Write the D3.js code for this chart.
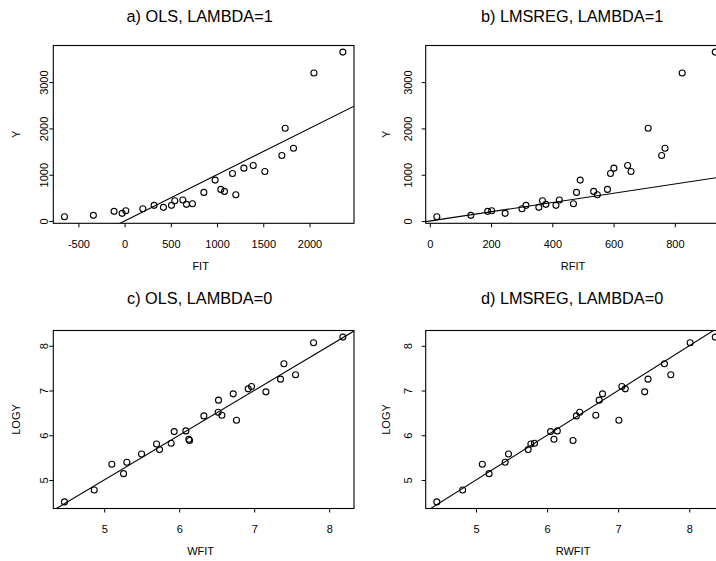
<!DOCTYPE html>
<html>
<head>
<meta charset="utf-8">
<script src="https://cdn.jsdelivr.net/npm/d3@7"></script>
<style>
  body { margin: 0; background: #fff; }
  text { font-family: "Liberation Sans", Arial, Helvetica, sans-serif; fill: #000; }
</style>
</head>
<body>
<svg width="716" height="561"></svg>
<script>
// observations, same order in every list
const Y     = [93, 123, 209, 166, 222, 265, 338, 295, 338, 438, 453, 360, 373, 618, 884,
               683, 640, 1028, 567, 1142, 1200, 1071, 1416, 2004, 1573, 3196, 3649];
const FIT   = [-651, -338, -114, -27, 13, 197, 319, 420, 507, 543, 630, 669, 734, 857, 979,
               1041, 1080, 1167, 1203, 1290, 1391, 1517, 1701, 1737, 1827, 2048, 2361];
const RFIT  = [23, 134, 189, 246, 202, 301, 314, 356, 412, 368, 423, 379, 469, 479, 491,
               580, 535, 590, 547, 601, 646, 657, 757, 713, 768, 824, 932];
const LOGY  = [4.51, 4.776, 5.351, 5.142, 5.396, 5.582, 5.806, 5.679, 5.821, 6.082, 6.097, 5.881, 5.91, 6.433, 6.784,
               6.515, 6.448, 6.925, 6.336, 7.037, 7.09, 6.97, 7.254, 7.597, 7.351, 8.067, 8.194];
const WFIT  = [4.47, 4.867, 5.102, 5.258, 5.302, 5.498, 5.698, 5.738, 5.893, 5.933, 6.089, 6.138, 6.129, 6.329, 6.524,
               6.52, 6.569, 6.72, 6.764, 6.92, 6.964, 7.156, 7.351, 7.396, 7.551, 7.791, 8.182];
const RWFIT = [4.449, 4.812, 5.089, 5.184, 5.41, 5.457, 5.772, 5.734, 5.823, 6.049, 6.144, 6.365, 6.097, 6.412, 6.733,
               6.459, 6.685, 6.78, 7.01, 7.1, 7.052, 7.373, 7.42, 7.651, 7.74, 8.013, 8.366];

const titles  = ["a) OLS, LAMBDA=1", "b) LMSREG, LAMBDA=1", "c) OLS, LAMBDA=0", "d) LMSREG, LAMBDA=0"];
const xLabels = ["FIT", "RFIT", "WFIT", "RWFIT"];
const yLabels = ["Y", "Y", "LOGY", "LOGY"];
const xTicks  = [[-500, 0, 500, 1000, 1500, 2000], [0, 200, 400, 600, 800], [5, 6, 7, 8], [5, 6, 7, 8]];
const yTicks  = [[0, 1000, 2000, 3000], [0, 1000, 2000, 3000], [5, 6, 7, 8], [5, 6, 7, 8]];

const panels = [
  {title: titles[0], xs: FIT,   ys: Y,    xl: xLabels[0], yl: yLabels[0], xt: xTicks[0], yt: yTicks[0]},
  {title: titles[1], xs: RFIT,  ys: Y,    xl: xLabels[1], yl: yLabels[1], xt: xTicks[1], yt: yTicks[1]},
  {title: titles[2], xs: WFIT,  ys: LOGY, xl: xLabels[2], yl: yLabels[2], xt: xTicks[2], yt: yTicks[2]},
  {title: titles[3], xs: RWFIT, ys: LOGY, xl: xLabels[3], yl: yLabels[3], xt: xTicks[3], yt: yTicks[3]}
];

// plot boxes (the figure is cut on the right, like the original)
const cols = [{l: 53.3, r: 354, tickLab: 5, axLab: 33}, {l: 425.7, r: 726.4, tickLab: 13.5, axLab: 35.5}];
const rows = [{t: 45.5, b: 223.3, title: 22}, {t: 330.5, b: 508.5, title: 304}];

const svg = d3.select('svg');
svg.append('rect').attr('width', 716).attr('height', 561).attr('fill', '#fff');

// R style range: data extent plus 4% each side
function rRange(v) {
  const [a, b] = d3.extent(v);
  const d = (b - a) * 0.04;
  return [a - d, b + d];
}

const fmt = d => String(d);   // plain hyphen like R

panels.forEach((p, i) => {
  const c = cols[i % 2], r = rows[Math.floor(i / 2)];
  const g = svg.append('g');

  const x = d3.scaleLinear().domain(rRange(p.xs)).range([c.l, c.r]);
  const y = d3.scaleLinear().domain(rRange(p.ys)).range([r.b, r.t]);

  const clipId = 'clip' + i;
  svg.append('clipPath').attr('id', clipId)
    .append('rect')
    .attr('x', c.l).attr('y', r.t)
    .attr('width', c.r - c.l).attr('height', r.b - r.t);

  const inner = g.append('g').attr('clip-path', `url(#${clipId})`);

  // abline(0, 1)
  const dom = x.domain();
  inner.append('line')
    .attr('x1', x(dom[0])).attr('y1', y(dom[0]))
    .attr('x2', x(dom[1])).attr('y2', y(dom[1]))
    .attr('stroke', '#000').attr('stroke-width', 1.1);

  inner.selectAll('circle')
    .data(p.xs.map((v, k) => [v, p.ys[k]]))
    .enter()
    .append('circle')
    .attr('cx', d => x(d[0]))
    .attr('cy', d => y(d[1]))
    .attr('r', 3)
    .attr('fill', 'none')
    .attr('stroke', '#000')
    .attr('stroke-width', 1.1);

  g.append('rect')
    .attr('x', c.l).attr('y', r.t)
    .attr('width', c.r - c.l).attr('height', r.b - r.t)
    .attr('fill', 'none').attr('stroke', '#000').attr('stroke-width', 1.1);

  // x axis
  const axX = g.append('g')
    .attr('transform', `translate(0, ${r.b})`)
    .call(d3.axisBottom(x).tickValues(p.xt).tickSize(4).tickFormat(fmt));
  axX.select('.domain').remove();
  axX.selectAll('line').attr('stroke', '#000');
  axX.selectAll('text')
    .attr('y', 24.5).attr('dy', null)
    .style('font-size', '11px')
    .attr('font-family', null);

  // y axis, labels turned like R does
  const axY = g.append('g')
    .attr('transform', `translate(${c.l}, 0)`)
    .call(d3.axisLeft(y).tickValues(p.yt).tickSize(4).tickFormat(fmt));
  axY.select('.domain').remove();
  axY.selectAll('line').attr('stroke', '#000');
  axY.selectAll('text')
    .attr('x', 0).attr('y', 0).attr('dy', null)
    .attr('text-anchor', 'middle')
    .attr('transform', `translate(${-c.tickLab}, 0) rotate(-90)`)
    .style('font-size', '11px')
    .attr('font-family', null);

  // title and axis names
  const mid = (c.l + c.r) / 2;
  g.append('text')
    .attr('x', mid - 4).attr('y', r.title)
    .attr('text-anchor', 'middle')
    .style('font-size', '16.3px')
    .text(p.title);

  g.append('text')
    .attr('x', mid - 3).attr('y', r.b + 46.5)
    .attr('text-anchor', 'middle')
    .style('font-size', '11px')
    .text(p.xl);

  g.append('text')
    .attr('transform', `translate(${c.l - c.axLab}, ${(r.t + r.b) / 2}) rotate(-90)`)
    .attr('text-anchor', 'middle')
    .style('font-size', '11px')
    .text(p.yl);
});
</script>
</body>
</html>
